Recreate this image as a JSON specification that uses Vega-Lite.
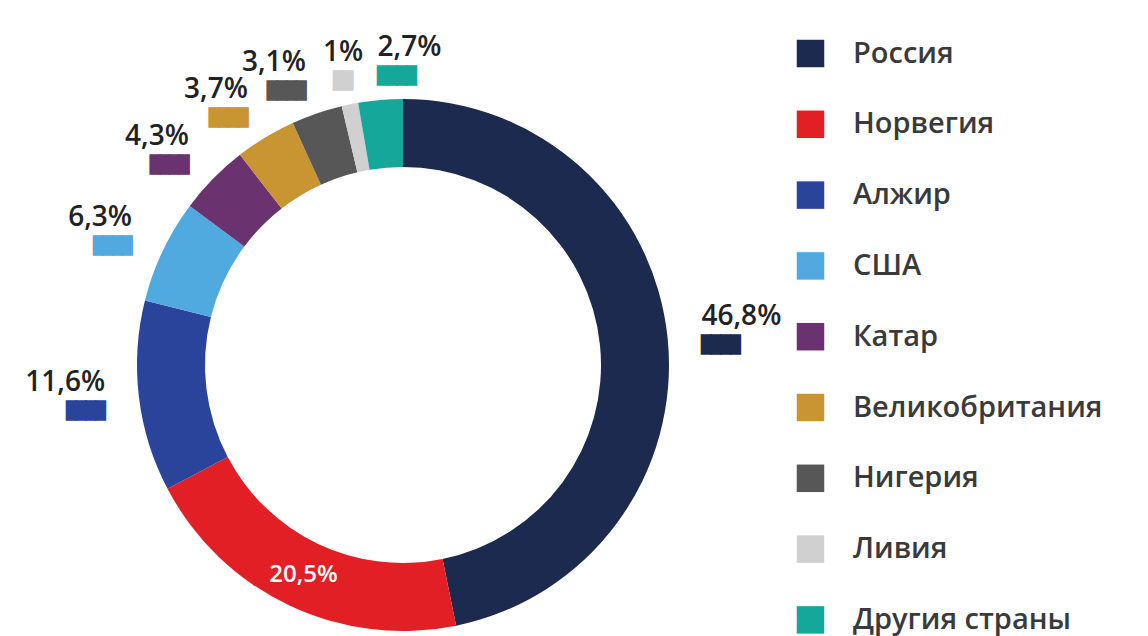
{
  "$schema": "https://vega.github.io/schema/vega-lite/v6.json",
  "autosize": {"type": "none"},
  "width": 806,
  "height": 540,
  "padding": {"left": 0, "top": 95, "right": 342, "bottom": 1},
  "background": "white",
  "data": {
    "values": [
      {"country": "Россия", "share": 46.8, "label": "46,8%", "order": 1},
      {"country": "Норвегия", "share": 20.5, "label": "20,5%", "order": 2},
      {"country": "Алжир", "share": 11.6, "label": "11,6%", "order": 3},
      {"country": "США", "share": 6.3, "label": "6,3%", "order": 4},
      {"country": "Катар", "share": 4.3, "label": "4,3%", "order": 5},
      {"country": "Великобритания", "share": 3.7, "label": "3,7%", "order": 6},
      {"country": "Нигерия", "share": 3.1, "label": "3,1%", "order": 7},
      {"country": "Ливия", "share": 1.0, "label": "1%", "order": 8},
      {"country": "Другия страны", "share": 2.7, "label": "2,7%", "order": 9}
    ]
  },
  "encoding": {
    "theta": {"field": "share", "type": "quantitative", "stack": true},
    "order": {"field": "order", "type": "quantitative"},
    "detail": {"field": "country", "type": "nominal"}
  },
  "layer": [
    {
      "mark": {"type": "arc", "innerRadius": 198, "outerRadius": 266},
      "encoding": {
        "color": {
          "field": "country",
          "type": "nominal",
          "scale": {
            "domain": ["Россия", "Норвегия", "Алжир", "США", "Катар", "Великобритания", "Нигерия", "Ливия", "Другия страны"],
            "range": ["#1c2a4f", "#e31f26", "#29449a", "#50a9df", "#6b3270", "#c99432", "#575757", "#d0d0d0", "#16a79b"]
          },
          "legend": {
            "title": null,
            "orient": "none",
            "legendX": 796,
            "legendY": -56,
            "symbolType": "square",
            "symbolSize": 756,
            "symbolStrokeWidth": 0,
            "symbolOpacity": 1,
            "labelFont": "Open Sans",
            "labelFontSize": 29,
            "labelFontWeight": 600,
            "labelColor": "#3a3a3a",
            "labelOffset": 28,
            "rowPadding": 40.8,
            "labelLimit": 400,
            "padding": 0
          }
        }
      }
    },
    {
      "mark": {"type": "text", "radius": 300, "align": "right", "baseline": "bottom", "dy": -4, "font": "Open Sans", "fontSize": 28, "fontWeight": 600, "color": "#222222"},
      "encoding": {
        "text": {"field": "label"},
        "opacity": {"condition": {"test": {"field": "country", "oneOf": ["Алжир", "США", "Катар", "Великобритания", "Нигерия"]}, "value": 1}, "value": 0}
      }
    },
    {
      "mark": {"type": "text", "radius": 300, "align": "right", "baseline": "top", "dy": 2, "font": "DejaVu Sans Mono", "fontSize": 16, "strokeWidth": 1.5, "text": "████"},
      "encoding": {
        "color": {"field": "country", "type": "nominal"},
        "stroke": {
          "field": "country",
          "type": "nominal",
          "scale": {
            "domain": ["Россия", "Норвегия", "Алжир", "США", "Катар", "Великобритания", "Нигерия", "Ливия", "Другия страны"],
            "range": ["#1c2a4f", "#e31f26", "#29449a", "#50a9df", "#6b3270", "#c99432", "#575757", "#d0d0d0", "#16a79b"]
          },
          "legend": null
        },
        "opacity": {"condition": {"test": {"field": "country", "oneOf": ["Алжир", "США", "Катар", "Великобритания", "Нигерия"]}, "value": 1}, "value": 0}
      }
    },
    {
      "mark": {"type": "text", "radius": 300, "align": "center", "baseline": "bottom", "dy": -4, "font": "Open Sans", "fontSize": 28, "fontWeight": 600, "color": "#222222"},
      "encoding": {
        "text": {"field": "label"},
        "opacity": {"condition": {"test": {"field": "country", "equal": "Ливия"}, "value": 1}, "value": 0}
      }
    },
    {
      "mark": {"type": "text", "radius": 300, "align": "center", "baseline": "top", "dy": 2, "font": "DejaVu Sans Mono", "fontSize": 16, "strokeWidth": 1.5, "text": "██"},
      "encoding": {
        "color": {"field": "country", "type": "nominal"},
        "stroke": {"field": "country", "type": "nominal", "legend": null},
        "opacity": {"condition": {"test": {"field": "country", "equal": "Ливия"}, "value": 1}, "value": 0}
      }
    },
    {
      "mark": {"type": "text", "radius": 300, "align": "left", "baseline": "bottom", "dy": -4, "font": "Open Sans", "fontSize": 28, "fontWeight": 600, "color": "#222222"},
      "encoding": {
        "text": {"field": "label"},
        "opacity": {"condition": {"test": {"field": "country", "oneOf": ["Россия", "Другия страны"]}, "value": 1}, "value": 0}
      }
    },
    {
      "mark": {"type": "text", "radius": 300, "align": "left", "baseline": "top", "dy": 2, "font": "DejaVu Sans Mono", "fontSize": 16, "strokeWidth": 1.5, "text": "████"},
      "encoding": {
        "color": {"field": "country", "type": "nominal"},
        "stroke": {"field": "country", "type": "nominal", "legend": null},
        "opacity": {"condition": {"test": {"field": "country", "oneOf": ["Россия", "Другия страны"]}, "value": 1}, "value": 0}
      }
    },
    {
      "mark": {"type": "text", "radius": 232, "align": "center", "baseline": "middle", "font": "Open Sans", "fontSize": 24, "fontWeight": 600, "color": "white"},
      "encoding": {
        "text": {"field": "label"},
        "opacity": {"condition": {"test": {"field": "country", "equal": "Норвегия"}, "value": 1}, "value": 0}
      }
    }
  ]
}
